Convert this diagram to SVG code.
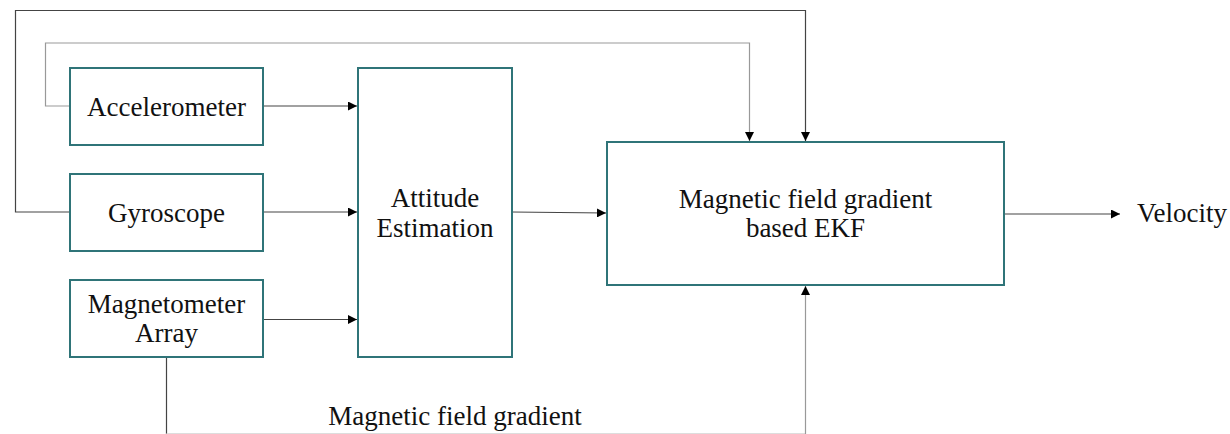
<svg xmlns="http://www.w3.org/2000/svg" width="1230" height="434" viewBox="0 0 1230 434">
<style>
.box{fill:#fff;stroke:#2f7478;stroke-width:2}
.t{font-family:"Liberation Serif","Times New Roman",serif;font-size:27px;fill:#111;text-anchor:middle}
.c{fill:none;stroke:#444;stroke-width:1.2}
.c2{fill:none;stroke:#999;stroke-width:1.2}
.c3{fill:none;stroke:#ddd;stroke-width:1.2}
</style>
<defs>
<marker id="ah" viewBox="0 0 10 10" refX="10" refY="5" markerWidth="9" markerHeight="9" markerUnits="userSpaceOnUse" orient="auto">
<path d="M0,0 L10,5 L0,10 z" fill="#000"/>
</marker>
</defs>
<rect width="1230" height="434" fill="#fff"/>
<g id="connectors">
<path class="c" d="M70,212 H15.5 V10.5 H805.5 V141" marker-end="url(#ah)"/>
<path class="c2" d="M70,106 H45.5 V43 H749.5 V141" marker-end="url(#ah)"/>
<path class="c" d="M263,106 H357" marker-end="url(#ah)"/>
<path class="c" d="M263,212 H357" marker-end="url(#ah)"/>
<path class="c" d="M263,319.5 H357" marker-end="url(#ah)"/>
<path class="c" d="M512,212 L606,213" marker-end="url(#ah)"/>
<path class="c" d="M1004,214 H1120" marker-end="url(#ah)"/>
<path class="c" d="M166.5,357 V434"/>
<path class="c3" d="M166.5,433.5 H805.5"/>
<path class="c2" d="M805.5,434 V286" marker-end="url(#ah)"/>
</g>
<g id="accelerometer"><rect class="box" x="70" y="68" width="193" height="77"/><text class="t" x="166.5" y="116">Accelerometer</text></g>
<g id="gyroscope"><rect class="box" x="70" y="174" width="193" height="77"/><text class="t" x="166.5" y="222">Gyroscope</text></g>
<g id="magnetometer"><rect class="box" x="70" y="280" width="193" height="77"/><text class="t" x="166.5" y="313">Magnetometer</text><text class="t" x="166.5" y="342">Array</text></g>
<g id="attitude"><rect class="box" x="358" y="68" width="154" height="289"/><text class="t" x="435" y="207">Attitude</text><text class="t" x="435" y="237">Estimation</text></g>
<g id="ekf"><rect class="box" x="607" y="142" width="397" height="143"/><text class="t" x="805.5" y="208">Magnetic field gradient</text><text class="t" x="805.5" y="237">based EKF</text></g>
<g id="velocity"><text class="t" x="1137" y="222" style="text-anchor:start">Velocity</text></g>
<g id="mfg-label"><text class="t" x="455" y="425">Magnetic field gradient</text></g>
</svg>
